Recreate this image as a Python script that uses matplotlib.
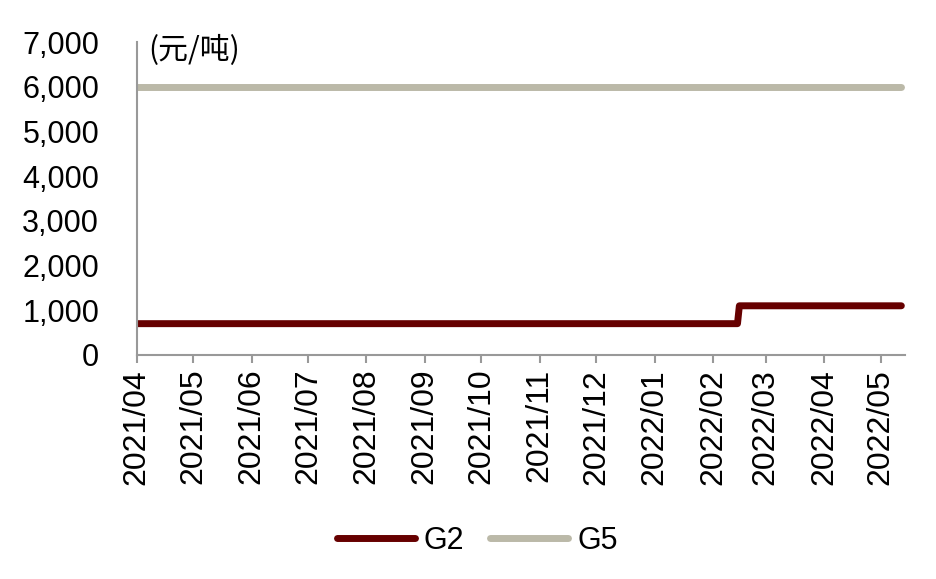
import matplotlib.pyplot as plt
import matplotlib.dates as mdates
import pandas as pd

plt.rcParams['font.family'] = ['Liberation Sans', 'Noto Sans CJK SC', 'DejaVu Sans']

# G2 / G5 price, yuan per tonne
g2_dates = pd.to_datetime(['2021-04-01', '2022-02-14', '2022-02-15', '2022-05-12'])
g2_values = [700, 700, 1100, 1100]
g5_dates = pd.to_datetime(['2021-04-01', '2022-05-12'])
g5_values = [6000, 6000]

tick_months = pd.date_range('2021-04-01', '2022-05-01', freq='MS')
y_ticks = [0, 1000, 2000, 3000, 4000, 5000, 6000, 7000]

fig = plt.figure(figsize=(9.36, 5.79), dpi=100)
ax = fig.add_axes([0.146, 0.387, 0.821, 0.54])

ax.plot(g2_dates, g2_values, color='#660000', linewidth=5, solid_capstyle='round', label='G2')
ax.plot(g5_dates, g5_values, color='#BBB9A8', linewidth=5, solid_capstyle='round', label='G5')

ax.set_ylim(0, 7000)
ax.set_yticks(y_ticks)
ax.set_yticklabels([f'{v:,}' for v in y_ticks])
ax.set_xlim(pd.Timestamp('2021-04-01'), pd.Timestamp('2022-05-14'))
ax.set_xticks(tick_months)
ax.xaxis.set_major_formatter(mdates.DateFormatter('%Y/%m'))

for s in ['top', 'right']:
    ax.spines[s].set_visible(False)
for s in ['left', 'bottom']:
    ax.spines[s].set_color('#999999')
    ax.spines[s].set_linewidth(1.5)

ax.tick_params(axis='y', length=0, pad=27, labelsize=22)
ax.tick_params(axis='x', length=6, width=1.5, color='#999999', pad=4, labelsize=23, labelrotation=90)

ax.text(0.015, 0.975, '(元/吨)', transform=ax.transAxes, fontsize=21.5,
        family=['Noto Sans CJK SC', 'DejaVu Sans'], va='center', ha='left')

fig.legend(loc='center', bbox_to_anchor=(0.51, 0.066), ncol=2, frameon=False,
           fontsize=22, handlelength=2.55, columnspacing=0.85, handletextpad=0.3)

fig.savefig('out.png', dpi=100)
